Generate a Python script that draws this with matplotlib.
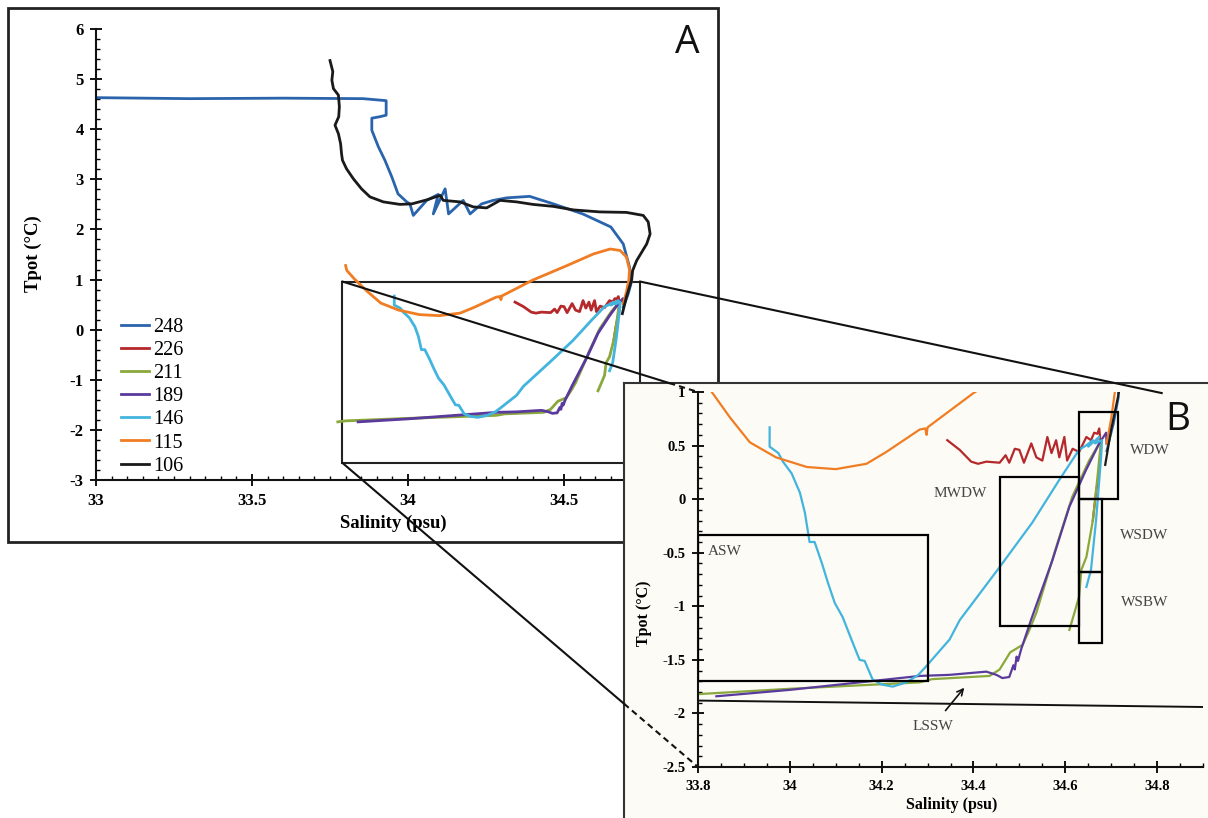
import matplotlib
matplotlib.use('Agg')
import matplotlib.pyplot as plt
from matplotlib.lines import Line2D
from matplotlib.patches import Rectangle
from matplotlib.ticker import MultipleLocator, FuncFormatter

plt.rcParams['font.family'] = ['Liberation Serif', 'DejaVu Serif']
plt.rcParams['font.weight'] = 'bold'
plt.rcParams['axes.labelweight'] = 'bold'
plt.rcParams['axes.unicode_minus'] = False

# ---- CTD profiles: salinity (psu) / potential temperature (deg C) ----
s248 = [33.0, 33.3, 33.6, 33.856, 33.93, 33.93, 33.91, 33.884, 33.884, 33.905, 33.926, 33.948,
        33.968, 33.996, 34.006, 34.017, 34.06, 34.097, 34.081, 34.119, 34.13, 34.177, 34.199,
        34.236, 34.273, 34.316, 34.39, 34.466, 34.56, 34.65, 34.69, 34.71, 34.716, 34.705, 34.69]
t248 = [4.63, 4.61, 4.62, 4.61, 4.57, 4.28, 4.25, 4.22, 3.98, 3.65, 3.38, 3.05,
        2.71, 2.55, 2.51, 2.28, 2.58, 2.70, 2.31, 2.81, 2.31, 2.58, 2.31,
        2.51, 2.58, 2.63, 2.66, 2.51, 2.31, 2.05, 1.71, 1.25, 0.95, 0.7, 0.45]

s226 = [34.343, 34.37, 34.395, 34.41, 34.428, 34.457, 34.47, 34.478, 34.49, 34.50, 34.51, 34.526,
        34.537, 34.55, 34.561, 34.57, 34.58, 34.587, 34.598, 34.604, 34.616, 34.63, 34.646, 34.656,
        34.663, 34.67, 34.674, 34.678, 34.674, 34.667, 34.66]
t226 = [0.55, 0.46, 0.35, 0.33, 0.35, 0.34, 0.41, 0.34, 0.47, 0.46, 0.34, 0.52,
        0.39, 0.36, 0.58, 0.43, 0.55, 0.39, 0.58, 0.36, 0.47, 0.44, 0.58, 0.55,
        0.62, 0.61, 0.66, 0.48, 0.27, 0.06, -0.20]

s211 = [33.775, 33.8, 34.0, 34.283, 34.31, 34.435, 34.457, 34.48, 34.507, 34.522, 34.537, 34.58,
        34.615, 34.652, 34.678, 34.67, 34.66, 34.646, 34.635, 34.63, 34.62, 34.609]
t211 = [-1.84, -1.82, -1.77, -1.71, -1.68, -1.65, -1.59, -1.43, -1.36, -1.22, -1.06, -0.45,
        0.02, 0.36, 0.55, 0.2, -0.2, -0.54, -0.66, -0.91, -1.06, -1.22]

s189 = [33.84, 34.0, 34.283, 34.348, 34.428, 34.45, 34.463, 34.478, 34.487, 34.49, 34.494, 34.497,
        34.504, 34.526, 34.572, 34.609, 34.645, 34.674, 34.689, 34.69]
t189 = [-1.84, -1.78, -1.65, -1.64, -1.61, -1.64, -1.67, -1.66, -1.55, -1.59, -1.47, -1.51,
        -1.40, -1.12, -0.57, -0.07, 0.27, 0.52, 0.62, 0.52]

s146 = [33.956, 33.956, 33.975, 33.985, 34.004, 34.022, 34.033, 34.043, 34.054, 34.07, 34.083, 34.098,
        34.115, 34.137, 34.152, 34.163, 34.18, 34.20, 34.224, 34.254, 34.28, 34.297, 34.348, 34.37,
        34.456, 34.528, 34.587, 34.63, 34.645, 34.66, 34.65, 34.674, 34.665, 34.68, 34.678, 34.667,
        34.656, 34.646]
t146 = [0.67, 0.49, 0.43, 0.35, 0.24, 0.06, -0.13, -0.40, -0.40, -0.60, -0.78, -0.97,
        -1.10, -1.34, -1.50, -1.51, -1.68, -1.73, -1.75, -1.71, -1.64, -1.56, -1.31, -1.13,
        -0.64, -0.22, 0.18, 0.46, 0.50, 0.55, 0.49, 0.58, 0.52, 0.55, 0.39, -0.20,
        -0.66, -0.82]

s115 = [33.80, 33.804, 33.83, 33.87, 33.913, 33.97, 34.037, 34.1, 34.167, 34.21, 34.283, 34.295,
        34.298, 34.30, 34.40, 34.51, 34.594, 34.648, 34.68, 34.70, 34.71, 34.708, 34.70, 34.69]
t115 = [1.28, 1.18, 1.0, 0.76, 0.53, 0.39, 0.30, 0.28, 0.33, 0.44, 0.65, 0.66,
        0.60, 0.67, 0.99, 1.28, 1.51, 1.61, 1.58, 1.45, 1.2, 1.0, 0.75, 0.52]

s106 = [33.75, 33.759, 33.756, 33.761, 33.777, 33.78, 33.778, 33.766, 33.777, 33.784, 33.787, 33.79,
        33.803, 33.825, 33.851, 33.878, 33.921, 33.974, 34.012, 34.06, 34.103, 34.113, 34.167,
        34.209, 34.252, 34.295, 34.348, 34.40, 34.466, 34.53, 34.615, 34.70, 34.754, 34.77, 34.776,
        34.765, 34.733, 34.72, 34.717, 34.70, 34.687]
t106 = [5.37, 5.15, 4.98, 4.81, 4.68, 4.45, 4.25, 4.08, 3.91, 3.71, 3.51, 3.38,
        3.21, 3.01, 2.81, 2.65, 2.55, 2.50, 2.51, 2.59, 2.68, 2.58, 2.55,
        2.45, 2.43, 2.58, 2.55, 2.50, 2.46, 2.39, 2.35, 2.34, 2.28, 2.15, 1.91,
        1.71, 1.38, 1.18, 1.0, 0.65, 0.32]

stations = ['248', '226', '211', '189', '146', '115', '106']
sal = [s248, s226, s211, s189, s146, s115, s106]
tpot = [t248, t226, t211, t189, t146, t115, t106]
colors = ['#2a64ad', '#b5282b', '#8aa83c', '#5a3a9c', '#43b4de', '#f07d23', '#1a1a1a']

# water mass boxes in panel B
wm_names = ['ASW', 'MWDW', 'WDW', 'WSDW', 'WSBW']
wm_s0 = [33.8, 34.457, 34.63, 34.63, 34.63]
wm_s1 = [34.3, 34.63, 34.715, 34.68, 34.68]
wm_t0 = [-1.70, -1.18, 0.0, -0.68, -1.34]
wm_t1 = [-0.33, 0.21, 0.81, 0.0, -0.68]
wm_lab_s = [33.822, 34.372, 34.785, 34.772, 34.772]
wm_lab_t = [-0.49, 0.056, 0.456, -0.335, -0.967]

zoom_s = [33.79, 34.744]   # zoom rectangle on panel A
zoom_t = [-2.66, 0.96]
lssw_s = [33.8, 34.9]
lssw_t = [-1.88, -1.94]

W, H = 1208, 818
fig = plt.figure(figsize=(W / 100, H / 100), dpi=100)


def box(x0, y0, x1, y1):
    # pixel box, top-down -> figure fraction
    return [x0 / W, 1 - y1 / H, (x1 - x0) / W, (y1 - y0) / H]


def style(ax, xmaj, xmin, ymaj, ymin, fs):
    for s in ['top', 'right']:
        ax.spines[s].set_visible(False)
    for s in ['left', 'bottom']:
        ax.spines[s].set_linewidth(1.5)
        ax.spines[s].set_color('#111111')
    ax.xaxis.set_major_locator(MultipleLocator(xmaj))
    ax.xaxis.set_minor_locator(MultipleLocator(xmin))
    ax.yaxis.set_major_locator(MultipleLocator(ymaj))
    ax.yaxis.set_minor_locator(MultipleLocator(ymin))
    fmt = FuncFormatter(lambda v, p: '%g' % round(v, 2))
    ax.xaxis.set_major_formatter(fmt)
    ax.yaxis.set_major_formatter(fmt)
    ax.tick_params(which='major', direction='inout', length=8, width=1.3, labelsize=fs, pad=5)
    ax.tick_params(which='minor', direction='in', length=3, width=1)


# panel A frame
fig.add_artist(Rectangle((8 / W, 1 - 542 / H), 710 / W, 534 / H, transform=fig.transFigure,
                         fill=False, lw=2, ec='#222222', zorder=0.5))

axA = fig.add_axes(box(96, 29, 720, 480))
axA.set_zorder(1)
axA.patch.set_alpha(0)
for s, t, c, n in zip(sal, tpot, colors, stations):
    axA.plot(s, t, color=c, lw=2, label=n)
axA.set_xlim(33, 35)
axA.set_ylim(-3, 6)
style(axA, 0.5, 0.05, 1, 0.2, 12)
axA.set_xlabel('Salinity (psu)', fontsize=13.5, fontweight='bold')
axA.set_ylabel('Tpot (°C)', fontsize=13.5, fontweight='bold')
axA.xaxis.set_label_coords(0.476, -0.078)
axA.yaxis.set_label_coords(-0.087, 0.503)
axA.add_patch(Rectangle((zoom_s[0], zoom_t[0]), zoom_s[1] - zoom_s[0], zoom_t[1] - zoom_t[0],
                        fill=False, lw=1.5, ec='#222222'))
axA.legend(loc='upper left', bbox_to_anchor=(0.024, 0.382), frameon=False, borderpad=0,
           handlelength=1.4, handletextpad=0.2, labelspacing=0.2,
           prop={'family': 'Liberation Serif', 'weight': 'normal', 'size': 14.5})

# panel B background frame
axBg = fig.add_axes(box(624, 383, W + 10, H + 10))
axBg.set_zorder(2)
axBg.set_facecolor('#fcfbf5')
axBg.set_xticks([])
axBg.set_yticks([])
for s in ['right', 'bottom']:
    axBg.spines[s].set_visible(False)
for s in ['top', 'left']:
    axBg.spines[s].set_linewidth(1.5)
    axBg.spines[s].set_color('#333333')

axB = fig.add_axes(box(698, 392, 1203, 767))
axB.set_zorder(3)
axB.patch.set_alpha(0)
for s, t, c in zip(sal, tpot, colors):
    axB.plot(s, t, color=c, lw=1.6)
axB.set_xlim(33.8, 34.9)
axB.set_ylim(-2.5, 1)
style(axB, 0.2, 0.05, 0.5, 0.1, 10.5)
axB.set_xlabel('Salinity (psu)', fontsize=11.5, fontweight='bold')
axB.set_ylabel('Tpot (°C)', fontsize=11.5, fontweight='bold')
axB.xaxis.set_label_coords(0.503, -0.08)
axB.yaxis.set_label_coords(-0.091, 0.41)

for i, name in enumerate(wm_names):
    axB.add_patch(Rectangle((wm_s0[i], wm_t0[i]), wm_s1[i] - wm_s0[i], wm_t1[i] - wm_t0[i],
                            fill=False, lw=1.6, ec='black', zorder=4))
    axB.text(wm_lab_s[i], wm_lab_t[i], name, fontsize=11, fontweight='normal', color='#444444',
             ha='left' if name == 'ASW' else 'center', va='center')
axB.plot(lssw_s, lssw_t, color='#111111', lw=1.4)
axB.annotate('LSSW', xy=(34.38, -1.76), xytext=(34.311, -2.12), fontsize=11, fontweight='normal',
             color='#444444', ha='center', va='center',
             arrowprops=dict(arrowstyle='->', color='#111111', lw=1.2, shrinkA=6, shrinkB=0))

# connector lines between the panels
fig.canvas.draw()
inv = fig.transFigure.inverted()
bg = axBg.get_window_extent()
fx, fy = bg.x0, bg.y1


def connect(p0, p1, dashed_inside):
    if dashed_inside:
        tx = (fx - p0[0]) / (p1[0] - p0[0])
        ty = (p0[1] - fy) / (p0[1] - p1[1])
        te = max(tx, ty)
        pe = (p0[0] + te * (p1[0] - p0[0]), p0[1] + te * (p1[1] - p0[1]))
        segs = [(p0, pe, '-'), (pe, p1, (0, (3, 2)))]
    else:
        segs = [(p0, p1, '-')]
    for a, b, ls in segs:
        fa, fb = inv.transform(a), inv.transform(b)
        fig.add_artist(Line2D([fa[0], fb[0]], [fa[1], fb[1]], transform=fig.transFigure,
                              color='#111111', lw=1.5, ls=ls, zorder=10))


pA_tl = axA.transData.transform((zoom_s[0], zoom_t[1]))
pA_bl = axA.transData.transform((zoom_s[0], zoom_t[0]))
pA_tr = axA.transData.transform((zoom_s[1], zoom_t[1]))
connect(pA_tl, axB.transData.transform((33.8, 1.0)), True)
connect(pA_bl, axB.transData.transform((33.8, -2.5)), True)
connect(pA_tr, axB.transData.transform((34.81, 0.99)), False)

fig.text(687 / W, 1 - 43 / H, 'A', fontsize=28, family='Open Sans', fontweight='normal',
         ha='center', va='center', color='#111111')
fig.text(1178 / W, 1 - 420 / H, 'B', fontsize=28, family='Open Sans', fontweight='normal',
         ha='center', va='center', color='#111111', zorder=11)

fig.savefig('out.png', dpi=100)
